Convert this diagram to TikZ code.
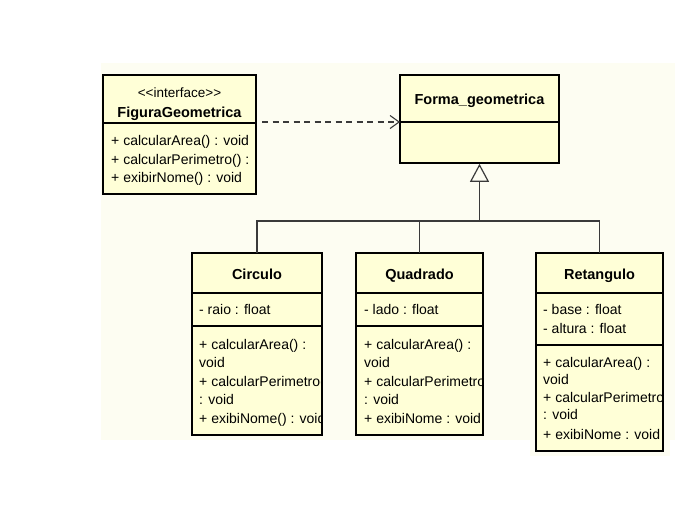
\documentclass[tikz,border=0pt]{standalone}
\usepackage{fontspec}
\setmainfont{Liberation Sans}
\usetikzlibrary{arrows.meta}
\definecolor{bgcol}{HTML}{FDFDF2}
\definecolor{boxfill}{HTML}{FFFFD7}
\definecolor{conn}{HTML}{3A3A3A}
\tikzset{
  boxnode/.style={fill=boxfill, draw=none, inner sep=0pt, outer sep=0pt, anchor=north west},
  boxline/.style={draw=black, line width=1.7pt},
  divline/.style={draw=black, line width=1.4pt},
  txt/.style={inner sep=0pt, anchor=base west, font=\fontsize{14}{16}\selectfont},
  ttl/.style={inner sep=0pt, anchor=base, font=\fontsize{14.5}{16}\selectfont\bfseries},
  stereo/.style={inner sep=0pt, anchor=base, font=\fontsize{13.5}{16}\selectfont},
  realize/.style={draw=conn, line width=1.1pt, dash pattern=on 6pt off 4.5pt, -{Straight Barb[length=9pt,width=13pt,line width=1.1pt]}},
  genline/.style={draw=conn, line width=1.2pt},
  gentip/.style={draw=conn, line width=1.2pt, -{Triangle[open,length=18pt,width=19pt,line width=1.2pt,fill=bgcol]}}
}
\begin{document}
\begin{tikzpicture}[x=1pt,y=-1pt]
\useasboundingbox (0,0) rectangle (699,507);
% background
\fill[bgcol] (101,63) rectangle (675,440);
\fill[bgcol] (530,440) rectangle (670,456);

% ---------- FiguraGeometrica ----------
\node[boxnode, minimum width=153pt, minimum height=119pt] (fig) at (103,75) {};
\begin{scope}
\clip (fig.north west) rectangle (fig.south east);
\node[stereo] (figst) at (179.5,97) {{<}{<}interface{>}{>}};
\node[ttl] (figt) at (179.5,117) {FiguraGeometrica};
\node[txt] (figm1) at (111,145) {+ calcularArea() : void};
\node[txt] (figm2) at (111,164) {+ calcularPerimetro() :};
\node[txt] (figm3) at (111,182.5) {+ exibirNome() : void};
\end{scope}
\draw[divline] (fig.west |- 0,123) -- (fig.east |- 0,123);
\draw[boxline] (fig.north west) rectangle (fig.south east);

% ---------- Forma_geometrica ----------
\node[boxnode, minimum width=159pt, minimum height=88pt] (forma) at (400,75) {};
\node[ttl] (format) at (479.5,104) {Forma\_geometrica};
\draw[divline] (forma.west |- 0,122) -- (forma.east |- 0,122);
\draw[boxline] (forma.north west) rectangle (forma.south east);

% ---------- Circulo ----------
\node[boxnode, minimum width=130pt, minimum height=182pt] (circ) at (192,253) {};
\begin{scope}
\clip (circ.north west) rectangle (circ.south east);
\node[ttl] (circt) at (257,279) {Circulo};
\node[txt] (circa1) at (199,314) {- raio : float};
\node[txt] (circm1) at (199,349) {+ calcularArea() :};
\node[txt] (circm2) at (199,367.5) {void};
\node[txt] (circm3) at (199,386.5) {+ calcularPerimetro()};
\node[txt] (circm4) at (199,404.5) {: void};
\node[txt] (circm5) at (199,423.5) {+ exibiNome() : void};
\end{scope}
\draw[divline] (circ.west |- 0,293) -- (circ.east |- 0,293);
\draw[divline] (circ.west |- 0,326) -- (circ.east |- 0,326);
\draw[boxline] (circ.north west) rectangle (circ.south east);

% ---------- Quadrado ----------
\node[boxnode, minimum width=127pt, minimum height=182pt] (quad) at (356,253) {};
\begin{scope}
\clip (quad.north west) rectangle (quad.south east);
\node[ttl] (quadt) at (419.5,279) {Quadrado};
\node[txt] (quada1) at (364,314) {- lado : float};
\node[txt] (quadm1) at (364,349) {+ calcularArea() :};
\node[txt] (quadm2) at (364,367.5) {void};
\node[txt] (quadm3) at (364,386.5) {+ calcularPerimetro()};
\node[txt] (quadm4) at (364,404.5) {: void};
\node[txt] (quadm5) at (364,423.5) {+ exibiNome : void};
\end{scope}
\draw[divline] (quad.west |- 0,293) -- (quad.east |- 0,293);
\draw[divline] (quad.west |- 0,326) -- (quad.east |- 0,326);
\draw[boxline] (quad.north west) rectangle (quad.south east);

% ---------- Retangulo ----------
\node[boxnode, minimum width=127pt, minimum height=198pt] (ret) at (536,253) {};
\begin{scope}
\clip (ret.north west) rectangle (ret.south east);
\node[ttl] (rett) at (599.5,279) {Retangulo};
\node[txt] (reta1) at (543,314) {- base : float};
\node[txt] (reta2) at (543,333) {- altura : float};
\node[txt] (retm1) at (543,367) {+ calcularArea() :};
\node[txt] (retm2) at (543,384.5) {void};
\node[txt] (retm3) at (543,402) {+ calcularPerimetro()};
\node[txt] (retm4) at (543,419.5) {: void};
\node[txt] (retm5) at (543,439) {+ exibiNome : void};
\end{scope}
\draw[divline] (ret.west |- 0,293) -- (ret.east |- 0,293);
\draw[divline] (ret.west |- 0,345) -- (ret.east |- 0,345);
\draw[boxline] (ret.north west) rectangle (ret.south east);

% ---------- connectors ----------
\draw[realize] ([xshift=6pt]fig.east |- 0,122) -- (forma.west |- 0,122);
\coordinate (junc) at (forma.south |- 0,221);
\draw[genline] (circ.north) |- (junc);
\draw[genline] (quad.north) |- (junc);
\draw[genline] (ret.north) |- (junc);
\draw[gentip] (junc) -- ([yshift=-0.8pt]forma.south);
\end{tikzpicture}
\end{document}
